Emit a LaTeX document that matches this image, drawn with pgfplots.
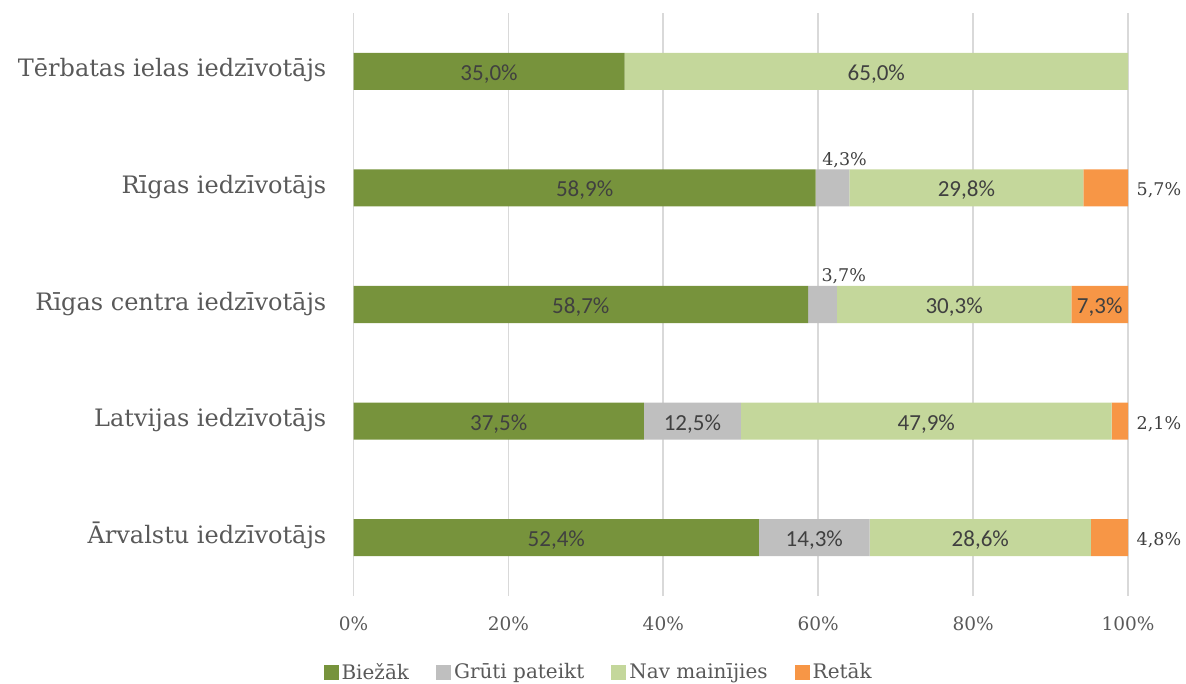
\documentclass[border=0pt]{standalone}
\usepackage{pgfplots}
\usepackage{pgfplotstable}
\pgfplotsset{compat=1.18}
\usepackage{fontspec}
\setmainfont{DejaVu Serif}
\newfontfamily\carlito{Carlito}
\definecolor{cgreen}{HTML}{77933C}
\definecolor{cgrey}{HTML}{BFBFBF}
\definecolor{clight}{HTML}{C4D79B}
\definecolor{corange}{HTML}{F79646}
\definecolor{ctext}{HTML}{595959}
\definecolor{clabel}{HTML}{404040}
\definecolor{cgrid}{HTML}{D9D9D9}

\pgfplotstableread{
x y lab
26.18 0 52,4
59.49 0 14,3
80.93 0 28,6
18.75 1 37,5
43.75 1 12,5
73.95 1 47,9
29.35 2 58,7
77.55 2 30,3
96.35 2 7,3
29.84 3 58,9
79.13 3 29,8
17.5 4 35,0
67.5 4 65,0
}\insidelabels

\pgfplotstableread{
x y lab
63.4 3 4,3
63.3 2 3,7
}\abovelabels

\pgfplotstableread{
x y lab
100 3 5,7
100 1 2,1
100 0 4,8
}\rightlabels

\pgfplotsset{
  geom/.style={at={(353.5bp,671bp)}, anchor=north west,
    scale only axis, width=774.5bp, height=583bp,
    xmin=0, xmax=100, ymin=-0.5, ymax=4.5},
}

\begin{document}
\begin{tikzpicture}
\path[use as bounding box] (0,0) rectangle (1186bp,684bp);
\begin{axis}[
  geom,
  xbar stacked, bar width=0.318,
  xtick={0,20,...,100},
  xticklabel={\pgfmathprintnumber{\tick}\%},
  xticklabel style={font=\fontsize{18.5bp}{22bp}\selectfont, text=ctext, anchor=base, inner sep=0pt, yshift=-35bp},
  /pgf/number format/assume math mode=true,
  ytick={0,1,2,3,4},
  yticklabels={Ārvalstu iedzīvotājs, Latvijas iedzīvotājs, Rīgas centra iedzīvotājs, Rīgas iedzīvotājs, Tērbatas ielas iedzīvotājs},
  yticklabel style={font=\fontsize{24bp}{28bp}\selectfont, text=ctext, anchor=base east, inner sep=0pt, xshift=-27bp, yshift=-5.7bp},
  major tick length=0pt,
  axis line style={draw=none},
  tick style={draw=none},
  xmajorgrids, grid style={cgrid, line width=1.8bp},
  legend columns=4,
  legend image code/.code={\fill[#1] (0bp,-7.5bp) rectangle (15bp,7.5bp);},
  legend style={at={(axis description cs:0.3152,-0.1304)}, anchor=center, draw=none, fill=none,
    font=\fontsize{20bp}{24bp}\selectfont, text=ctext,
    nodes={inner sep=0pt},
    /tikz/every odd column/.append style={column sep=3bp},
    /tikz/every even column/.append style={column sep=27bp}},
]
\addplot[fill=cgreen, draw=none] coordinates {(52.35,0) (37.5,1) (58.7,2) (59.68,3) (35,4)};
\addlegendentry{Biežāk}
\addplot[fill=cgrey, draw=none] coordinates {(14.29,0) (12.5,1) (3.7,2) (4.36,3) (0,4)};
\addlegendentry{Grūti pateikt}
\addplot[fill=clight, draw=none] coordinates {(28.57,0) (47.9,1) (30.3,2) (30.19,3) (65,4)};
\addlegendentry{Nav mainījies}
\addplot[fill=corange, draw=none] coordinates {(4.80,0) (2.1,1) (7.3,2) (5.77,3) (0,4)};
\addlegendentry{Retāk}
\end{axis}

\begin{axis}[geom, hide axis, clip=false]
\addplot[sharp plot, draw=none, mark=none,
  nodes near coords={\pgfplotspointmeta\%}, point meta=explicit symbolic,
  every node near coord/.style={anchor=base, inner sep=0pt, yshift=-9bp,
    font=\carlito\fontsize{23bp}{27bp}\selectfont, text=clabel}]
  table[x=x, y=y, meta=lab] {\insidelabels};
\addplot[sharp plot, draw=none, mark=none,
  nodes near coords={\pgfplotspointmeta\%}, point meta=explicit symbolic,
  every node near coord/.style={anchor=base, inner sep=0pt, yshift=22.5bp,
    font=\fontsize{17.5bp}{21bp}\selectfont, text=clabel}]
  table[x=x, y=y, meta=lab] {\abovelabels};
\addplot[sharp plot, draw=none, mark=none,
  nodes near coords={\pgfplotspointmeta\%}, point meta=explicit symbolic,
  every node near coord/.style={anchor=base west, inner sep=0pt, xshift=8.5bp, yshift=-8bp,
    font=\fontsize{17.5bp}{21bp}\selectfont, text=clabel}]
  table[x=x, y=y, meta=lab] {\rightlabels};
\end{axis}
\end{tikzpicture}
\end{document}
